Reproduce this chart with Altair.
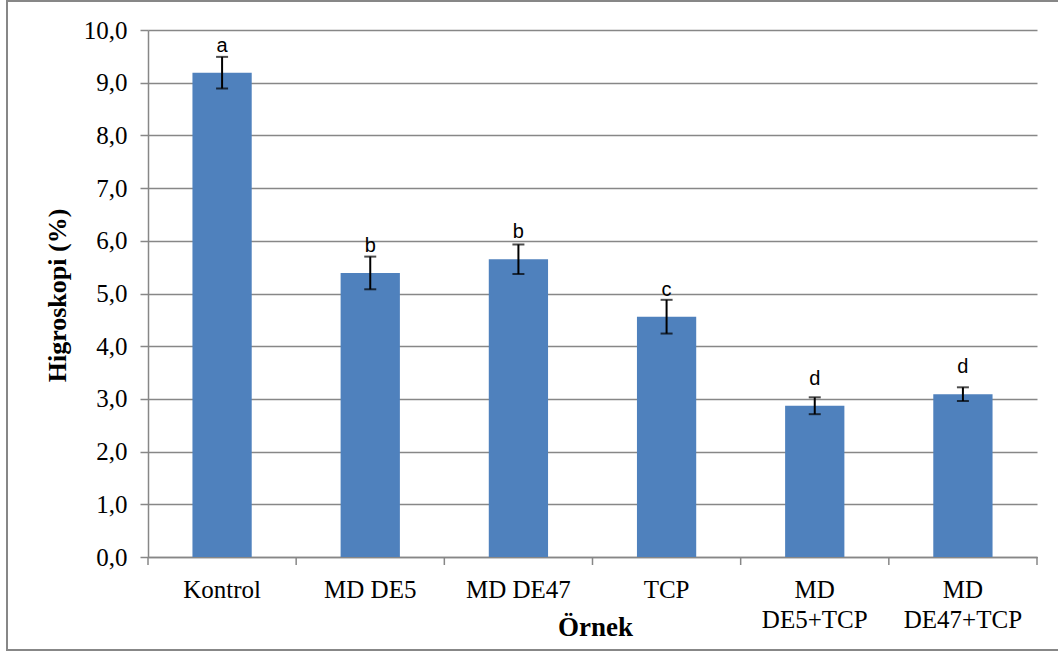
import altair as alt
import pandas as pd

# Hygroscopicity (%) per sample, with standard deviation and significance groups
categories = ["Kontrol", "MD DE5", "MD DE47", "TCP", "MD|DE5+TCP", "MD|DE47+TCP"]
means = [9.19, 5.39, 5.65, 4.56, 2.87, 3.09]
errors = [0.30, 0.31, 0.28, 0.32, 0.16, 0.13]
letters = ["a", "b", "b", "c", "d", "d"]
y_ticks = [0, 1, 2, 3, 4, 5, 6, 7, 8, 9, 10]

df = pd.DataFrame({"ornek": categories, "hig": means, "err": errors, "grup": letters})
df["lo"] = df["hig"] - df["err"]
df["hi"] = df["hig"] + df["err"]

W, H = 889, 527
GRAY = "#878787"
BAR = "#4F81BD"
SERIF = "Liberation Serif"

x_scale = alt.Scale(domain=categories, paddingInner=0, paddingOuter=0)
y_scale = alt.Scale(domain=[0, 10], nice=False, zero=True)

x_axis = alt.Axis(
    title="Örnek",
    titleFont=SERIF,
    titleFontSize=27,
    titleFontWeight="bold",
    titleColor="black",
    titleX=447,
    titleY=78,
    titleAlign="center",
    titleBaseline="alphabetic",
    labelAngle=0,
    labelFont=SERIF,
    labelFontSize=25,
    labelColor="black",
    labelBaseline="top",
    labelPadding=20,
    labelLineHeight=30,
    labelExpr="split(datum.label, '|')",
    ticks=False,
    domainColor=GRAY,
    domainWidth=1.5,
    grid=False,
)

y_axis = alt.Axis(
    title="Higroskopi (%)",
    titleFont=SERIF,
    titleFontSize=26,
    titleFontWeight="bold",
    titleColor="black",
    titleAngle=270,
    titleX=-83,
    titleY=265,
    titleAlign="center",
    titleBaseline="alphabetic",
    values=y_ticks,
    labelExpr="replace(format(datum.value, '.1f'), '.', ',')",
    labelFont=SERIF,
    labelFontSize=25,
    labelColor="black",
    labelPadding=13,
    tickSize=8,
    tickColor=GRAY,
    tickWidth=1.5,
    domainColor=GRAY,
    domainWidth=1.5,
    grid=True,
    gridColor=GRAY,
    gridWidth=1.3,
)

X = alt.X("ornek:N", scale=x_scale, axis=x_axis)


def Y(field):
    return alt.Y(field, scale=y_scale, axis=y_axis)


base = alt.Chart(df)

bars = base.mark_bar(color=BAR, width=alt.RelativeBandSize(0.4)).encode(x=X, y=Y("hig:Q"))

err_line = base.mark_rule(color="black", strokeWidth=2).encode(x=X, y=Y("lo:Q"), y2="hi:Q")

cap_lo = base.mark_tick(color="black", orient="horizontal", size=12, thickness=2).encode(
    x=X, y=Y("lo:Q")
)
cap_hi = base.mark_tick(color="black", orient="horizontal", size=12, thickness=2).encode(
    x=X, y=Y("hi:Q")
)

group_text = base.mark_text(
    font="Liberation Sans", fontSize=20, color="black", baseline="alphabetic", dy=-21
).encode(x=X, y=Y("hig:Q"), text="grup:N")

# category separator ticks under the x axis
sep_ticks = base.mark_rule(color=GRAY, strokeWidth=1.5).encode(
    x=alt.X("ornek:N", scale=x_scale, axis=x_axis, bandPosition=0),
    y=alt.value(H),
    y2=alt.value(H + 8),
)
end_tick = alt.Chart(alt.Data(values=[{"k": 1}])).mark_rule(color=GRAY, strokeWidth=1.5).encode(
    x=alt.value(W),
    y=alt.value(H),
    y2=alt.value(H + 8),
)

# outer frame around the whole figure
frame = alt.Chart(alt.Data(values=[{"k": 1}])).mark_rect(
    filled=False, stroke=GRAY, strokeWidth=2
).encode(
    x=alt.value(-141),
    x2=alt.value(W + 80),
    y=alt.value(-29),
    y2=alt.value(620),
)

chart = (
    alt.layer(frame, bars, err_line, cap_lo, cap_hi, group_text, sep_ticks, end_tick)
    .properties(
        width=W,
        height=H,
        autosize=alt.AutoSizeParams(type="none"),
        padding={"left": 148, "top": 30, "right": 21, "bottom": 98},
        background="white",
    )
    .configure_view(stroke=None)
)

chart.save("out.html", embed_options={"renderer": "svg", "actions": False})
